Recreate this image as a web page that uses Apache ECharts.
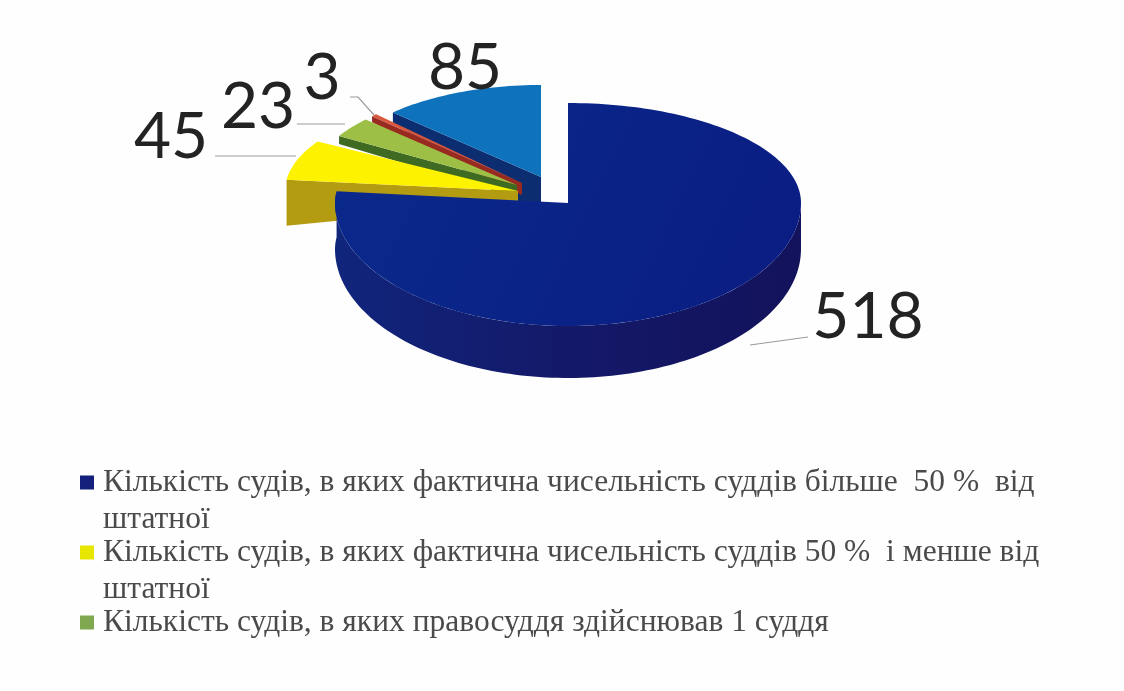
<!DOCTYPE html>
<html><head><meta charset="utf-8">
<style>html,body{margin:0;padding:0;background:#fff}#c{width:1124px;height:691px;filter:blur(0.6px)}</style>
<script src="https://cdn.jsdelivr.net/npm/echarts@6/dist/echarts.min.js"></script>
</head><body><div id="c"></div>
<script>
const categories = [
  "Кількість судів, в яких фактична чисельність суддів більше  50 %  від\nштатної",
  "Кількість судів, в яких фактична чисельність суддів 50 %  і менше від\nштатної",
  "Кількість судів, в яких правосуддя здійснював 1 суддя",
  "Кількість судів, в яких правосуддя не здійснювалось",
  "Інші суди"
];
const values = [518, 45, 23, 3, 85];
const legendNames = categories.slice(0, 3);

// Slice appearance: where each exploded wedge sits in the fake-3D projection.
const looks = [
  {z:5, cx:568, cy:203, rx:233, ryBack:100, ryFront:123, outerWall:true,
   top:{type:'linear',x:0,y:0,x2:1,y2:1,colorStops:[{offset:0,color:'#0a2a8c'},{offset:1,color:'#0a1c82'}]},
   wall:{type:'linear',x:0,y:0,x2:1,y2:0,colorStops:[{offset:0,color:'#10257c'},{offset:.5,color:'#141968'},{offset:1,color:'#13125c'}]},
   legend:'#14207c', leader:[[750,345],[808,337]], lx:868, ly:317},
  {z:4, cx:518, cy:191, rx:233, ryBack:97, ryFront:97, edgeDepth:[46,12],
   top:'#fdf200', wall:'#b39b12', legend:'#e6e600', leader:[[215,156],[296,156]], lx:171, ly:137},
  {z:3, cx:517, cy:185, rx:207, ryBack:96, ryFront:96, edgeDepth:[8,12],
   top:'#9dbf45', wall:'#3f6a22', legend:'#7fa850', leader:[[297,124],[345,124]], lx:258, ly:107},
  {z:2, cx:522, cy:183, rx:205, ryBack:98, ryFront:98, edgeDepth:[6,12],
   top:'#d8563c', wall:'#982a20', legend:'#982a20', leader:[[350,97],[358,97],[374,115]], lx:322, ly:78},
  {z:1, cx:541, cy:177, rx:208, ryBack:92, ryFront:92, edgeDepth:[10,26], hubBack:30,
   top:'#0f72bd', wall:'#0c2e70', legend:'#0f72bd', leader:null, lx:465, ly:68}
];

const total = values.reduce((a, b) => a + b, 0);
let running = 0;
const spans = values.map(v => { const s = running; running += v; return [s / total * 360, running / total * 360]; });
const rad = d => d * Math.PI / 180;

function rimPoint(l, deg, extra) {
  const a = rad(deg), c = Math.cos(a);
  const ry = c > 0 ? l.ryBack : l.ryFront;
  return [l.cx + l.rx * Math.sin(a), l.cy - ry * c + (extra || 0)];
}
function arc(l, from, to, extraFn) {
  const pts = [], n = Math.max(4, Math.ceil(Math.abs(to - from) / 1.5));
  for (let i = 0; i <= n; i++) {
    const d = from + (to - from) * i / n;
    pts.push(rimPoint(l, d, extraFn ? extraFn(d) : 0));
  }
  return pts;
}

const series = values.map((v, i) => {
  const l = looks[i];
  return {
    type: 'custom', name: categories[i], coordinateSystem: 'none', z: l.z,
    itemStyle: {color: l.legend}, silent: true, animation: false,
    data: [[v]],
    renderItem: function (params, api) {
      const val = api.value(0), [s, e] = spans[i], children = [];
      if (l.outerWall) {
        const d = deg => 46 + 6 * Math.max(0, -Math.cos(rad(deg)));
        const pts = arc(l, 90, e).concat(arc(l, e, 90, d));
        children.push({type:'polygon', shape:{points:pts}, style:{fill:l.wall}});
      } else {
        const o = rimPoint(l, s);
        const down = l.cy + l.edgeDepth[1];
        const pts = [o, [l.cx, l.cy], [l.cx, down]];
        if (l.hubBack) pts.push([l.cx - l.hubBack, down]);
        pts.push([o[0], o[1] + l.edgeDepth[0]]);
        children.push({type:'polygon', shape:{points:pts}, style:{fill:l.wall}});
      }
      children.push({type:'polygon', shape:{points:[[l.cx, l.cy]].concat(arc(l, s, e))}, style:{fill:l.top}});
      if (l.leader) children.push({type:'polyline', shape:{points:l.leader}, style:{fill:null, stroke:'#9a9a9a', lineWidth:1.2}});
      children.push({type:'text', x:l.lx, y:l.ly, style:{text:String(val), fill:'#232323', font:'400 64px Lato', align:'center', verticalAlign:'middle'}});
      return {type:'group', children};
    }
  };
});

const chart = echarts.init(document.getElementById('c'), null, {renderer:'canvas'});
chart.setOption({
  animation: false,
  backgroundColor: '#fefefe',
  tooltip: {show:false},
  legend: {
    data: legendNames, orient:'vertical', left:80, top:427, padding:0,
    itemWidth:14, itemHeight:14, itemGap:-41, icon:'rect', selectedMode:false,
    textStyle:{fontFamily:'Liberation Serif', fontSize:31.5, lineHeight:37, color:'#4a4a4a', padding:[0,0,0,4]},
    formatter: n => '\n' + n + (n.indexOf('\n') >= 0 ? '' : '\n')
  },
  series
});
</script></body></html>
